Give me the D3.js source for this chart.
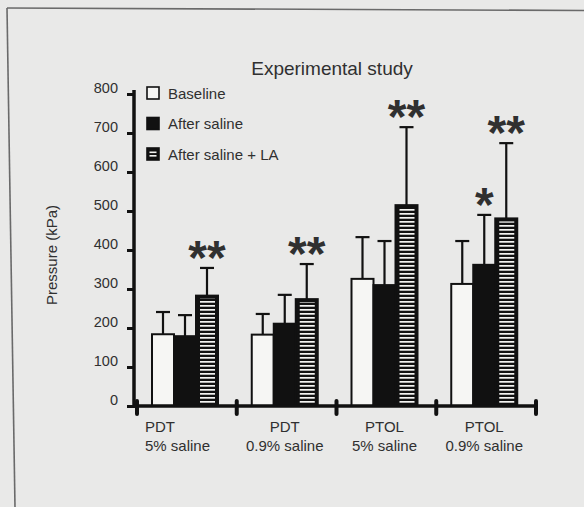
<!DOCTYPE html>
<html>
<head>
<meta charset="utf-8">
<script src="https://cdn.jsdelivr.net/npm/d3@7"></script>
<style>
  html, body { margin: 0; padding: 0; background: #e9e9e8; }
  svg { display: block; }
  text { font-family: "Liberation Sans", Arial, Helvetica, sans-serif; fill: #303030; }
</style>
</head>
<body>
<svg id="chart" width="584" height="507"></svg>
<script>
// ---- data ----
const categories = ["PDT|5% saline", "PDT|0.9% saline", "PTOL|5% saline", "PTOL|0.9% saline"];
const seriesNames = ["Baseline", "After saline", "After saline + LA"];
const baselineMean = [184, 183, 326, 313];
const baselineErr  = [57, 53, 107, 110];
const salineMean   = [179, 211, 310, 362];
const salineErr    = [54, 74, 113, 128];
const laMean       = [283, 274, 515, 481];
const laErr        = [71, 90, 200, 193];
const laSig        = ["**", "**", "**", "**"];
const salineSig    = ["", "", "", "*"];
const baselineSig  = ["", "", "", ""];
const yTicks = [0, 100, 200, 300, 400, 500, 600, 700, 800];
const titleText = "Experimental study";
const yTitle = "Pressure (kPa)";

const series = [
  { name: seriesNames[0], mean: baselineMean, err: baselineErr, sig: baselineSig, kind: "open" },
  { name: seriesNames[1], mean: salineMean,   err: salineErr,   sig: salineSig,   kind: "solid" },
  { name: seriesNames[2], mean: laMean,       err: laErr,       sig: laSig,       kind: "striped" }
];

const svg = d3.select("#chart");

// background frame (scanned page edge)
svg.append("rect").attr("x", 0).attr("y", 0).attr("width", 584).attr("height", 507).attr("fill", "#e9e9e8");
svg.append("line").attr("x1", 7).attr("y1", 8).attr("x2", 584).attr("y2", 10.5)
  .attr("stroke", "#6a6a6a").attr("stroke-width", 1.6);
svg.append("line").attr("x1", 7).attr("y1", 8).attr("x2", 15).attr("y2", 507)
  .attr("stroke", "#6a6a6a").attr("stroke-width", 1.6);

// stripe pattern
const defs = svg.append("defs");
const pat = defs.append("pattern").attr("id", "stripes")
  .attr("patternUnits", "userSpaceOnUse").attr("width", 8).attr("height", 4);
pat.append("rect").attr("x", 0).attr("y", 0).attr("width", 8).attr("height", 4).attr("fill", "#111");
pat.append("rect").attr("x", 0).attr("y", 1).attr("width", 8).attr("height", 1.7).attr("fill", "#f4f4f2");

// scales
const y = d3.scaleLinear().domain([0, 800]).range([406, 94]);
const x0 = d3.scaleBand().domain(categories).range([137, 536]).padding(0);
const x1 = d3.scaleBand().domain(seriesNames).range([15, 81]).padding(0);

// title
svg.append("text").attr("x", 332).attr("y", 75).attr("text-anchor", "middle")
  .style("font-size", "19px").text(titleText);

// y axis title
svg.append("text").attr("transform", "translate(57,255) rotate(-90)")
  .attr("text-anchor", "middle").style("font-size", "15px").text(yTitle);

// y axis
const yAxis = svg.append("g").attr("transform", "translate(134,0)")
  .call(d3.axisLeft(y).tickValues(yTicks).tickSize(7).tickPadding(9).tickSizeOuter(0));
yAxis.select(".domain").attr("stroke", "#111").attr("stroke-width", 3.5)
  .attr("d", `M0,${y(800) - 4}V${y(0) + 2}`);
yAxis.selectAll(".tick line").attr("stroke", "#111").attr("stroke-width", 3);
yAxis.selectAll(".tick text").attr("dy", "-0.1em").style("font-size", "14.5px")
  .style("font-family", "'Liberation Sans', Arial, sans-serif").attr("fill", "#333");

// bars
const groups = svg.selectAll("g.grp").data(categories).join("g")
  .attr("class", "grp").attr("transform", d => `translate(${x0(d)},0)`);

series.forEach(s => {
  groups.each(function(cat, i) {
    const g = d3.select(this);
    const bx = x1(s.name), bw = x1.bandwidth();
    const top = y(s.mean[i]), bottom = y(0);
    const cx = bx + bw / 2;
    // error bar
    const et = y(s.mean[i] + s.err[i]);
    g.append("line").attr("x1", cx).attr("x2", cx).attr("y1", top).attr("y2", et)
      .attr("stroke", "#111").attr("stroke-width", 2.2);
    g.append("line").attr("x1", cx - 7).attr("x2", cx + 7).attr("y1", et).attr("y2", et)
      .attr("stroke", "#111").attr("stroke-width", 2.2);
    // bar
    g.append("rect").attr("x", bx).attr("y", top).attr("width", bw).attr("height", bottom - top)
      .attr("fill", s.kind === "open" ? "#f6f6f4" : "#111")
      .attr("stroke", "#111").attr("stroke-width", 2);
    if (s.kind === "striped") {
      g.append("rect").attr("x", bx + 4).attr("y", top + 3).attr("width", bw - 7)
        .attr("height", Math.max(0, bottom - top - 5)).attr("fill", "url(#stripes)");
    }
    // significance
    if (s.sig[i]) {
      g.append("text").attr("x", cx).attr("y", et - 21 + 27).attr("text-anchor", "middle")
        .style("font-size", "48px").style("font-weight", "bold").attr("fill", "#161616")
        .text(s.sig[i]);
    }
  });
});

// x axis
svg.append("line").attr("x1", 133).attr("x2", 538).attr("y1", y(0)).attr("y2", y(0))
  .attr("stroke", "#111").attr("stroke-width", 3.5);
const bounds = categories.map(c => x0(c)).concat([x0.range()[1]]);
svg.selectAll("line.xt").data(bounds).join("line").attr("class", "xt")
  .attr("x1", d => d).attr("x2", d => d).attr("y1", y(0) - 5).attr("y2", y(0) + 8)
  .attr("stroke", "#111").attr("stroke-width", 4).attr("stroke-linecap", "round");

// x labels
categories.forEach((c, i) => {
  const [l1, l2] = c.split("|");
  const first = i === 0;
  const xx = first ? x0(c) + 8 : x0(c) + x1("After saline") + x1.bandwidth() / 2;
  const t = svg.append("text").attr("text-anchor", first ? "start" : "middle").style("font-size", "15px");
  t.append("tspan").attr("x", xx).attr("y", 432).text(l1);
  t.append("tspan").attr("x", xx).attr("y", 451).text(l2);
});

// legend
const legend = svg.append("g");
series.forEach((s, i) => {
  const ly = 87 + i * 30.5;
  const lg = legend.append("g").attr("transform", `translate(147,${ly})`);
  lg.append("rect").attr("x", 0).attr("y", 0).attr("width", 12).attr("height", 12)
    .attr("fill", s.kind === "open" ? "#f6f6f4" : "#111").attr("stroke", "#111").attr("stroke-width", 1.6);
  if (s.kind === "striped") {
    lg.append("rect").attr("x", 2.5).attr("y", 3.5).attr("width", 7).attr("height", 1.6).attr("fill", "#f4f4f2");
    lg.append("rect").attr("x", 2.5).attr("y", 7).attr("width", 7).attr("height", 1.6).attr("fill", "#f4f4f2");
  }
  lg.append("text").attr("x", 21).attr("y", 11.5).style("font-size", "15px").text(s.name);
});
</script>
</body>
</html>
